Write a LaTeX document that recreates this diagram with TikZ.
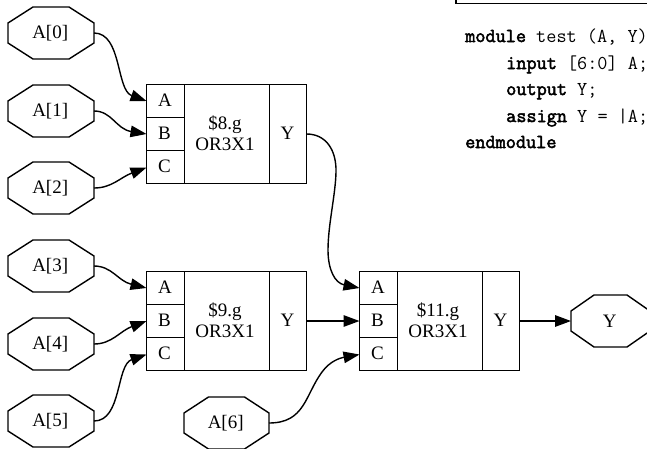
\documentclass[tikz,border=0pt]{standalone}
\usepackage{fontspec}
\setmainfont{Liberation Serif}
\setmonofont{Latin Modern Mono}[BoldFont={Latin Modern Mono},BoldFeatures={FakeBold=2.5}]
\usetikzlibrary{arrows.meta}
\tikzset{
  x=1pt,y=-1pt,
  wire/.style={line width=1.4pt,-{Triangle[length=16pt,width=11.5pt]}},
  box/.style={draw=black,line width=1.4pt},
  lbl/.style={font=\fontsize{19}{20.5}\selectfont,align=center,inner sep=0pt},
  code/.style={font=\fontsize{19.7}{21}\ttfamily,anchor=base west,inner sep=0pt}
}
\newcommand{\octa}[6]{% name cx cy halfw dx text
  \draw[box] (#2-#4,#3-10) -- (#2-#5,#3-26) -- (#2+#5,#3-26) -- (#2+#4,#3-10)
    -- (#2+#4,#3+10) -- (#2+#5,#3+26) -- (#2-#5,#3+26) -- (#2-#4,#3+10) -- cycle;
  \node[lbl] (#1) at (#2-0.8,#3) {#6};
  \coordinate (#1w) at (#2-#4,#3);
  \coordinate (#1e) at (#2+#4,#3);
}
\newcommand{\rec}[6]{% name x0 y0 yb1 yb2 title
  \draw[box] (#2,#3) rectangle (#2+160,#3+99);
  \draw[box] (#2+38,#3) -- (#2+38,#3+99) (#2+123,#3) -- (#2+123,#3+99);
  \draw[box] (#2,#4) -- (#2+38,#4) (#2,#5) -- (#2+38,#5);
  \node[lbl] (#1a) at (#2+18.5,#3+16) {A};
  \node[lbl] (#1b) at (#2+18,#3+49) {B};
  \node[lbl] (#1c) at (#2+18,#3+82) {C};
  \node[lbl] (#1t) at (#2+78.5,#3+48.5) {#6};
  \node[lbl] (#1y) at (#2+141,#3+49) {Y};
  \coordinate (#1A) at (#2,#3+16.5);
  \coordinate (#1B) at (#2,#3+49.5);
  \coordinate (#1C) at (#2,#3+83);
  \coordinate (#1Y) at (#2+160,#3+49.5);
}
\begin{document}
\begin{tikzpicture}
\useasboundingbox (0,0) rectangle (647,448);
\clip (0,0) rectangle (647,448);
\octa{a0}{51}{33}{43}{18}{A[0]}
\octa{a1}{51}{111}{43}{18}{A[1]}
\octa{a2}{51}{188}{43}{18}{A[2]}
\octa{a3}{51}{266}{43}{18}{A[3]}
\octa{a4}{51}{344}{43}{18}{A[4]}
\octa{a5}{51}{421}{43}{18}{A[5]}
\octa{a6}{226.5}{423}{42.5}{18}{A[6]}
\octa{yo}{610.5}{321}{39.5}{16.5}{Y}
\rec{g}{146.5}{84.5}{117.5}{150.5}{\$8.g\\OR3X1}
\rec{h}{146.5}{271.5}{304.5}{337.5}{\$9.g\\OR3X1}
\rec{k}{359.5}{271.5}{304.5}{337.5}{\$11.g\\OR3X1}
\draw[wire] (a0e) .. controls (122,33) and (116,90) .. (gA);
\draw[wire] (a1e) .. controls (112,111) and (116,129) .. (gB);
\draw[wire] (a2e) .. controls (112,188) and (120,177.5) .. (gC);
\draw[wire] (a3e) .. controls (112,266) and (118,281) .. (hA);
\draw[wire] (a4e) .. controls (112,344) and (120,331) .. (hB);
\draw[wire] (a5e) .. controls (122,421) and (116,365) .. (hC);
\draw[wire] (a6e) .. controls (305,423) and (305,395) .. (322,372) .. controls (330,361) and (340,358) .. (kC);
\draw[wire] (hY) -- (kB);
\draw[wire] (kY) -- (yow);
\draw[wire] (gY) .. controls (326,134) and (336.5,150) .. (336,172) .. controls (335.5,195) and (328,225) .. (328,250) .. controls (328,270) and (335,283) .. (kA);
\draw[box] (456,-5) -- (456,3.5) -- (652,3.5);
\node[code] (l1) at (465,42) {\textbf{module} test (A, Y)};
\node[code] (l2) at (506,69) {\textbf{input} [6:0] A;};
\node[code] (l3) at (506,95) {\textbf{output} Y;};
\node[code] (l4) at (506,122) {\textbf{assign} Y = |A;};
\node[code] (l5) at (465,148) {\textbf{endmodule}};
\end{tikzpicture}
\end{document}
